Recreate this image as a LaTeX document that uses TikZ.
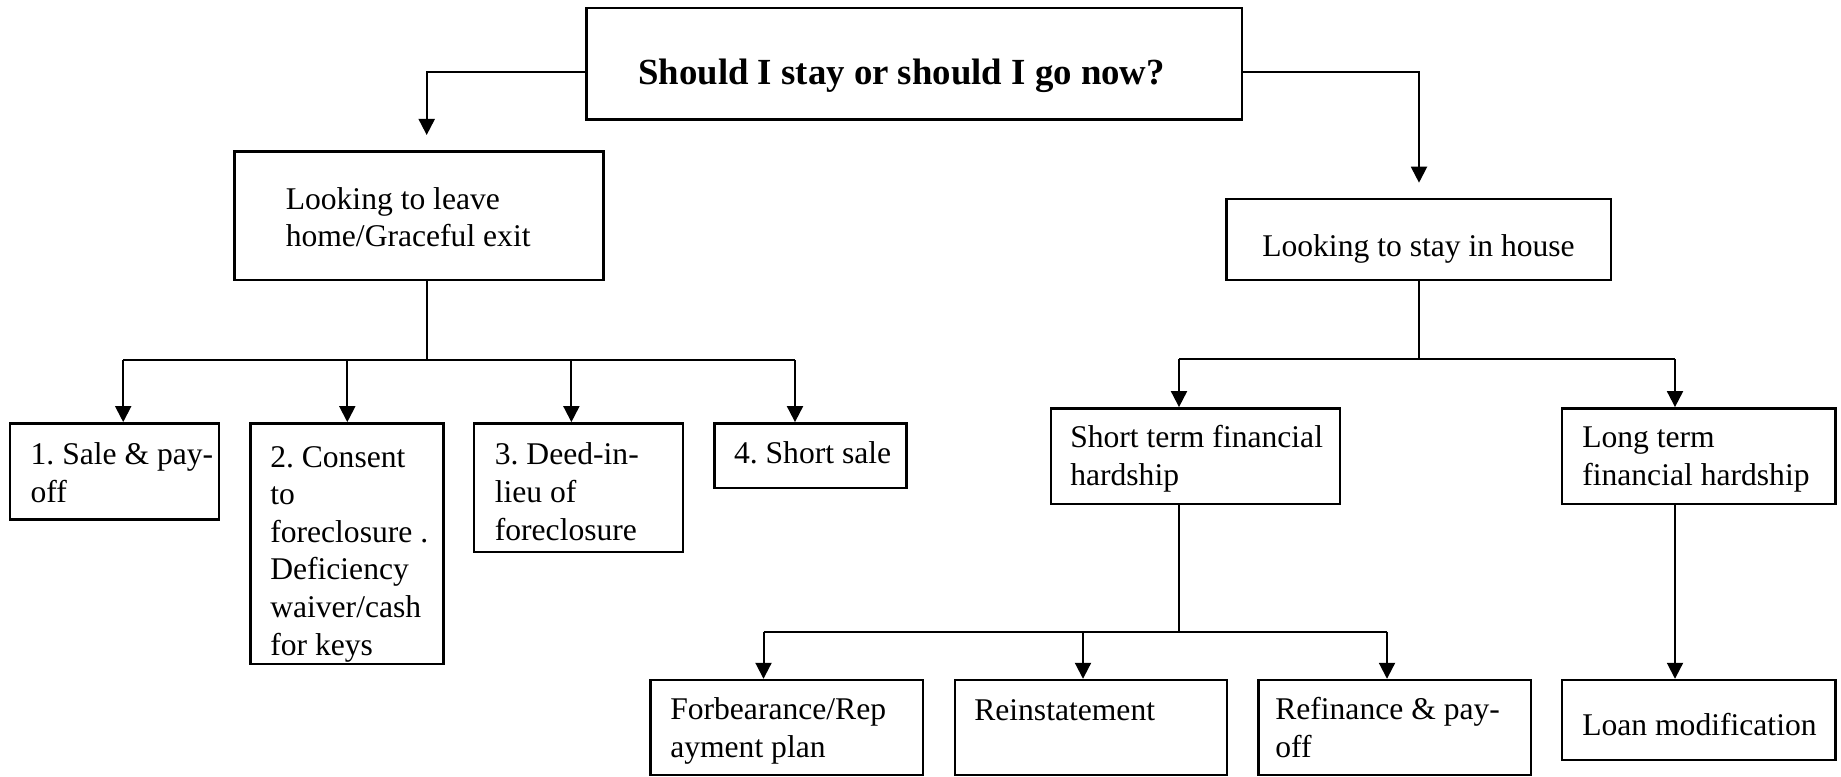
\documentclass[tikz,border=0pt]{standalone}
\usepackage{fontspec}
\setmainfont{Liberation Serif}
\usetikzlibrary{arrows.meta,fit}
\frenchspacing
\begin{document}
\begin{tikzpicture}[x=0.75pt,y=-0.75pt,
  box/.style={draw=black,line width=1.8pt,inner sep=0pt,fill=none},
  txt/.style={inner sep=0pt,align=left,anchor=base west,font=\fontsize{23.7}{28.2}\selectfont\frenchspacing},
  ttl/.style={inner sep=0pt,anchor=base west,font=\fontsize{27.6}{33}\selectfont\bfseries},
  conn/.style={line width=1.5pt},
  arr/.style={line width=1.5pt,-{Triangle[width=12pt,length=12pt]}}]
\useasboundingbox (0,0) rectangle (1841,777);
% boxes
\node[box,fit={(586.5,8.3) (1242,119.5)}] (top) {};
\node[box,fit={(234.5,151.7) (603.4,280)}] (leave) {};
\node[box,fit={(1226.4,199.3) (1611,280)}] (stay) {};
\node[box,fit={(9.8,423.3) (218.7,519.3)}] (b1) {};
\node[box,fit={(250.4,423.3) (443.3,664)}] (b2) {};
\node[box,fit={(474,423.3) (683,551.7)}] (b3) {};
\node[box,fit={(714.6,423.3) (906.6,487.7)}] (b4) {};
\node[box,fit={(1050.8,408.3) (1339.7,504)}] (st) {};
\node[box,fit={(1562,408.3) (1835.5,504)}] (lt) {};
\node[box,fit={(650.6,680) (922.7,775)}] (fb) {};
\node[box,fit={(954.8,680) (1227,775)}] (rs) {};
\node[box,fit={(1258.4,680) (1531,775)}] (rf) {};
\node[box,fit={(1562,680) (1835.5,760)}] (lm) {};
% texts (anchor = baseline of last line)
\node[ttl] (ttop) at (638,85) {Should I stay or should I go now?};
\node[txt] (tleave) at (285.5,247) {Looking to leave\\home/Graceful exit};
\node[txt] (tstay) at (1262,257) {Looking to stay in house};
\node[txt] (tb1) at (30.4,502) {1. Sale \& pay-\\off};
\node[txt] (tb2) at (270,655) {2. Consent\\to\\foreclosure .\\Deficiency\\waiver/cash\\for keys};
\node[txt] (tb3) at (494.6,540) {3. Deed-in-\\lieu of\\foreclosure};
\node[txt] (tb4) at (733.8,463) {4. Short sale};
\node[txt] (tst) at (1070,485) {Short term financial\\hardship};
\node[txt] (tlt) at (1582,485) {Long term\\financial hardship};
\node[txt] (tfb) at (670,757) {Forbearance/Rep\\ayment plan};
\node[txt] (trs) at (974,720) {Reinstatement};
\node[txt] (trf) at (1275,757) {Refinance \& pay-\\off};
\node[txt] (tlm) at (1582,735) {Loan modification};
% junction coordinates
\coordinate (aL) at (426.7,135);
\coordinate (aR) at (1419,182.7);
\coordinate (busL) at (426.7,360);
\coordinate (busLa) at (123.2,360);
\coordinate (busLb) at (347.3,360);
\coordinate (busLc) at (571.4,360);
\coordinate (busLd) at (795,360);
\coordinate (busR) at (1419,359);
\coordinate (busRa) at (1179,359);
\coordinate (busRb) at (1675,359);
\coordinate (busS) at (1179,631.7);
\coordinate (busSa) at (763.5,631.7);
\coordinate (busSb) at (1083,631.7);
\coordinate (busSc) at (1387,631.7);
% connectors
\draw[arr] ([yshift=-5.85pt]top.west) -| (aL);
\draw[arr] ([yshift=-5.85pt]top.east) -| (aR);
\draw[conn] (busL |- leave.south) -- (busL);
\draw[conn] (busLa) -- (busLd);
\draw[arr] (busLa) -- (busLa |- b1.north);
\draw[arr] (busLb) -- (busLb |- b2.north);
\draw[arr] (busLc) -- (busLc |- b3.north);
\draw[arr] (busLd) -- (busLd |- b4.north);
\draw[conn] (busR |- stay.south) -- (busR);
\draw[conn] (busRa) -- (busRb);
\draw[arr] (busRa) -- (busRa |- st.north);
\draw[arr] (busRb) -- (busRb |- lt.north);
\draw[conn] (busS |- st.south) -- (busS);
\draw[conn] (busSa) -- (busSc);
\draw[arr] (busSa) -- (busSa |- fb.north);
\draw[arr] (busSb) -- (busSb |- rs.north);
\draw[arr] (busSc) -- (busSc |- rf.north);
\draw[arr] (busRb |- lt.south) -- (busRb |- lm.north);
\end{tikzpicture}
\end{document}
